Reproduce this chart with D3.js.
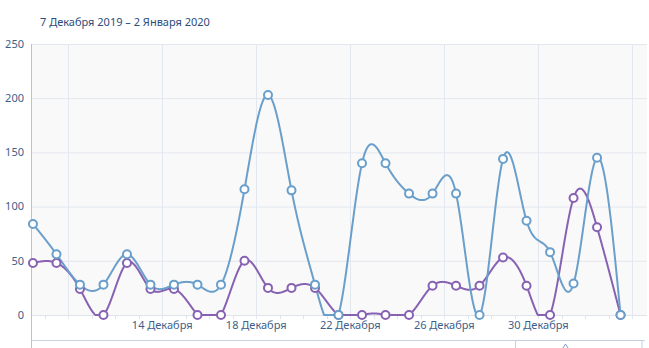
<!DOCTYPE html>
<html><head><meta charset="utf-8">
<script src="https://cdn.jsdelivr.net/npm/d3@7"></script>
<style>
html,body{margin:0;padding:0;background:#fff;}
svg{display:block;font-family:"Noto Sans",sans-serif;}
</style></head>
<body><svg id="c" width="649" height="348"></svg>
<script>
const title = "7 Декабря 2019 – 2 Января 2020";
const dates = ["2019-12-08","2019-12-09","2019-12-10","2019-12-11","2019-12-12","2019-12-13","2019-12-14",
  "2019-12-15","2019-12-16","2019-12-17","2019-12-18","2019-12-19","2019-12-20","2019-12-21","2019-12-22",
  "2019-12-23","2019-12-24","2019-12-25","2019-12-26","2019-12-27","2019-12-28","2019-12-29","2019-12-30",
  "2019-12-31","2020-01-01","2020-01-02"];
const seriesBlue = [84,56,28,28,56,28,28,28,28,116,203,115,28,0,140,140,112,112,112,0,144,87,58,29,145,0];
const seriesPurple = [48,48,24,0,48,24,24,0,0,50,25,25,25,0,0,0,0,27,27,27,53,27,0,108,81,0];
const yTicks = [0,50,100,150,200,250];
const majorTickDates = ["2019-12-10","2019-12-14","2019-12-18","2019-12-22","2019-12-26","2019-12-30","2020-01-03"];
const tickLabels = {"2019-12-14":"14 Декабря","2019-12-18":"18 Декабря","2019-12-22":"22 Декабря","2019-12-26":"26 Декабря","2019-12-30":"30 Декабря"};

const parse = d3.timeParse("%Y-%m-%d");
const noon = s => d3.timeHour.offset(parse(s), 12);

const svg = d3.select("#c");
const L = 31, R = 647, T = 44, B = 315;
const dayW = 23.49;
const x0 = d3.timeHour.offset(noon(dates[0]), -24/dayW);
const x1 = d3.timeHour.offset(x0, (R - L) / dayW * 24);
const x = d3.scaleTime().domain([x0, x1]).range([L, R]);
const y = d3.scaleLinear().domain([0, 250]).range([B, T]);

svg.append("rect").attr("x", L).attr("y", T).attr("width", R - L).attr("height", B - T).attr("fill", "#f9f9f9");

svg.append("g").selectAll("line").data(yTicks.filter(v => v > 0)).join("line")
  .attr("x1", L).attr("x2", R).attr("y1", d => y(d) + 0.5).attr("y2", d => y(d) + 0.5)
  .attr("stroke", "#e3e7ef").attr("stroke-width", 1);

const days = d3.timeDay.range(parse("2019-12-09"), parse("2020-01-04"));
svg.append("g").selectAll("line").data(days).join("line")
  .attr("x1", d => Math.round(x(d)) + 0.5).attr("x2", d => Math.round(x(d)) + 0.5)
  .attr("y1", B).attr("y2", B + 4).attr("stroke", "#dde3ec");

svg.append("g").selectAll("line").data(majorTickDates.map(parse)).join("line")
  .attr("x1", d => Math.round(x(d)) + 0.5).attr("x2", d => Math.round(x(d)) + 0.5)
  .attr("y1", T).attr("y2", B + 4).attr("stroke", "#e3e7ef");

svg.append("line").attr("x1", L).attr("x2", R).attr("y1", B + 0.5).attr("y2", B + 0.5).attr("stroke", "#dfe4ec");
svg.append("line").attr("x1", L).attr("x2", 645).attr("y1", 340.5).attr("y2", 340.5).attr("stroke", "#c9d5e4");
svg.append("line").attr("x1", L + 0.5).attr("x2", L + 0.5).attr("y1", T).attr("y2", 348).attr("stroke", "#b4c5da");

svg.append("rect").attr("x", 515.5).attr("y", 340.5).attr("width", 126.5).attr("height", 12)
  .attr("fill", "#fff").attr("stroke", "#c2d0e2");
svg.append("path").attr("d", "M563,348 L565.5,344 L568,348").attr("fill", "none").attr("stroke", "#7f9cc0").attr("stroke-width", 1);

svg.append("g").selectAll("text").data(yTicks).join("text")
  .attr("x", 24).attr("y", d => y(d)).attr("dy", "0.35em").attr("text-anchor", "end")
  .attr("font-size", 11).attr("fill", "#3d5f8c").text(d => d);

svg.append("g").selectAll("text").data(Object.keys(tickLabels)).join("text")
  .attr("x", d => x(parse(d))).attr("y", 329).attr("text-anchor", "middle")
  .attr("font-size", 11).attr("fill", "#3d5f8c").text(d => tickLabels[d]);

svg.append("text").attr("x", 40).attr("y", 25.5).attr("font-size", 11).attr("fill", "#2c4c7a").text(title);

const line = d3.line().x((d, i) => x(noon(dates[i]))).y(d => y(d)).curve(d3.curveNatural);
// smooth curve, clamped so it never dips below the zero line
function clampedPath(vals) {
  const tmp = svg.append("path").attr("d", line(vals)).attr("visibility", "hidden");
  const node = tmp.node(), len = node.getTotalLength();
  const pts = [];
  for (let s = 0; s <= len; s += 0.5) {
    const p = node.getPointAtLength(s);
    pts.push([p.x, Math.min(p.y, y(0))]);
  }
  const e = node.getPointAtLength(len); pts.push([e.x, Math.min(e.y, y(0))]);
  tmp.remove();
  return d3.line()(pts);
}
const series = [{v: seriesBlue, c: "#6a9fcb"}, {v: seriesPurple, c: "#8762b2"}];
series.slice().reverse().forEach(s => {
  svg.append("path").attr("d", clampedPath(s.v)).attr("fill", "none").attr("stroke", s.c)
    .attr("stroke-width", 2).attr("stroke-linejoin", "round");
});
series.slice().reverse().forEach(s => {
  svg.append("g").selectAll("circle").data(s.v).join("circle")
    .attr("cx", (d, i) => x(noon(dates[i]))).attr("cy", d => y(d)).attr("r", 4)
    .attr("fill", "#fff").attr("stroke", s.c).attr("stroke-width", 2);
});
</script></body></html>
